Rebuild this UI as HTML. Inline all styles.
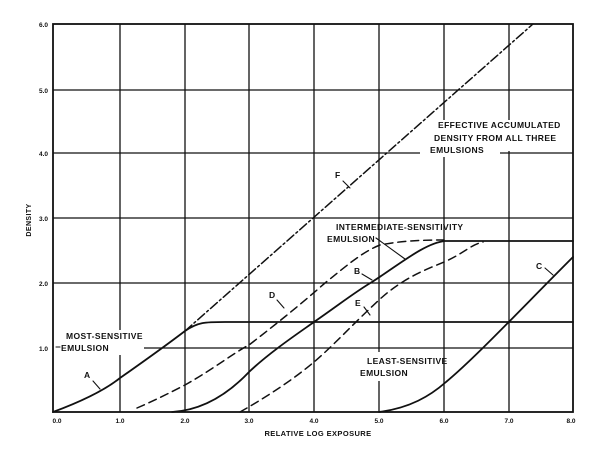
<!DOCTYPE html>
<html><head><meta charset="utf-8"><style>
html,body{margin:0;padding:0;background:#fff;}
svg{display:block;}
text{font-family:"Liberation Sans",Arial,sans-serif;font-weight:bold;fill:#111;}
</style></head><body>
<svg width="600" height="452" viewBox="0 0 600 452" xmlns="http://www.w3.org/2000/svg">
<g stroke="#111" stroke-width="1.3" fill="none">
  <line x1="120" y1="24" x2="120" y2="330"/>
  <line x1="120" y1="355" x2="120" y2="412"/>
  <line x1="185" y1="24" x2="185" y2="412"/>
  <line x1="249" y1="24" x2="249" y2="412"/>
  <line x1="314" y1="24" x2="314" y2="412"/>
  <line x1="379" y1="24" x2="379" y2="352"/>
  <line x1="379" y1="381" x2="379" y2="412"/>
  <line x1="444" y1="24" x2="444" y2="120"/>
  <line x1="444" y1="157" x2="444" y2="412"/>
  <line x1="509" y1="24" x2="509" y2="120"/>
  <line x1="509" y1="151" x2="509" y2="412"/>
  <line x1="53" y1="90" x2="573" y2="90"/>
  <line x1="53" y1="153" x2="420" y2="153"/>
  <line x1="500" y1="153" x2="573" y2="153"/>
  <line x1="53" y1="218" x2="573" y2="218"/>
  <line x1="53" y1="283" x2="573" y2="283"/>
  <line x1="144" y1="348" x2="573" y2="348"/>
  <rect x="53" y="24" width="520" height="388" stroke-width="1.8"/>
</g>
<g stroke="#111" stroke-width="1.8" fill="none" stroke-linecap="round">
  <path d="M53,412 C80,402 105,390 120,378 C140,364 160,350 185,331 C198,322 205,322 225,322 L573,322"/>
  <path d="M172,412 C205,410 230,392 249,372 C270,352 300,332 314,322 C340,304 355,292 372,282 C400,264 425,243 445,241 L573,241"/>
  <path d="M379,412 C410,408 430,396 446,382 C475,358 520,310 573,257"/>
  <path d="M185,331 L533,24" stroke-dasharray="9,3,2,3" stroke-width="1.5"/>
  <path d="M137,408 C160,398 175,390 185,385 C215,368 235,352 249,345 C275,325 300,305 325,283 C345,267 362,252 380,245 C400,241 420,240 444,240" stroke-dasharray="8,5" stroke-width="1.5"/>
  <path d="M240,412 C270,395 295,378 314,362 S355,322 379,300 S425,270 444,262 S470,245 483,242" stroke-dasharray="8,5" stroke-width="1.5"/>
  <g stroke-width="1.1">
    <line x1="93" y1="381" x2="100" y2="389"/>
    <line x1="343" y1="181" x2="350" y2="188"/>
    <line x1="277" y1="300" x2="284" y2="308"/>
    <line x1="362" y1="274" x2="372" y2="280"/>
    <line x1="364" y1="307" x2="370" y2="315"/>
    <line x1="545" y1="268" x2="553" y2="275"/>
    <line x1="376" y1="238" x2="405" y2="259"/>
    <line x1="56" y1="347" x2="60" y2="347"/>
  </g>
</g>
<g font-size="8.5" letter-spacing="0.4">
  <text x="66" y="339">MOST-SENSITIVE</text>
  <text x="61" y="351">EMULSION</text>
  <text x="438" y="128">EFFECTIVE ACCUMULATED</text>
  <text x="434" y="141">DENSITY FROM ALL THREE</text>
  <text x="430" y="153">EMULSIONS</text>
  <text x="336" y="230">INTERMEDIATE-SENSITIVITY</text>
  <text x="327" y="242">EMULSION</text>
  <text x="367" y="364">LEAST-SENSITIVE</text>
  <text x="360" y="376">EMULSION</text>
  <text x="84" y="378">A</text>
  <text x="335" y="178">F</text>
  <text x="269" y="298">D</text>
  <text x="354" y="274">B</text>
  <text x="355" y="306">E</text>
  <text x="536" y="269">C</text>
</g>
<g font-size="6.5">
  <text x="48" y="27" text-anchor="end">6.0</text>
  <text x="48" y="93" text-anchor="end">5.0</text>
  <text x="48" y="156" text-anchor="end">4.0</text>
  <text x="48" y="221" text-anchor="end">3.0</text>
  <text x="48" y="286" text-anchor="end">2.0</text>
  <text x="48" y="351" text-anchor="end">1.0</text>
  <text x="57" y="423" text-anchor="middle">0.0</text>
  <text x="120" y="423" text-anchor="middle">1.0</text>
  <text x="185" y="423" text-anchor="middle">2.0</text>
  <text x="249" y="423" text-anchor="middle">3.0</text>
  <text x="314" y="423" text-anchor="middle">4.0</text>
  <text x="379" y="423" text-anchor="middle">5.0</text>
  <text x="444" y="423" text-anchor="middle">6.0</text>
  <text x="509" y="423" text-anchor="middle">7.0</text>
  <text x="571" y="423" text-anchor="middle">8.0</text>
</g>
<text x="318" y="436" font-size="7.5" text-anchor="middle" letter-spacing="0.4">RELATIVE LOG EXPOSURE</text>
<text x="0" y="0" font-size="7" text-anchor="middle" letter-spacing="0.4" transform="translate(31,220) rotate(-90)">DENSITY</text>
</svg>
</body></html>
